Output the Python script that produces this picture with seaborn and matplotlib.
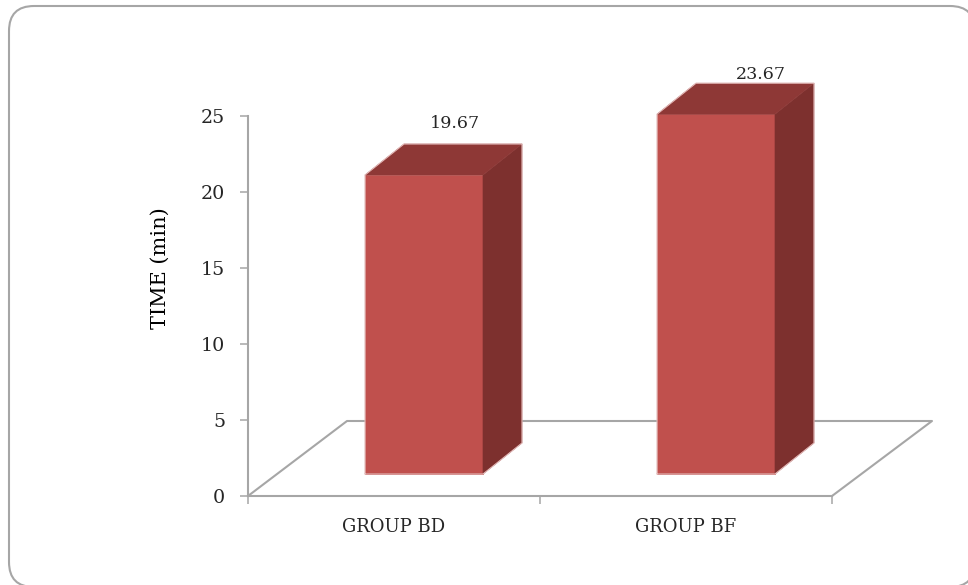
import matplotlib
matplotlib.use("Agg")
import matplotlib.pyplot as plt
from matplotlib.patches import FancyBboxPatch, Polygon
from matplotlib.transforms import Affine2D, IdentityTransform
import pandas as pd
import seaborn as sns

groups = ["GROUP BD", "GROUP BF"]
times = [19.67, 23.67]
y_ticks = [0, 5, 10, 15, 20, 25]

FRONT = "#C0504D"
SIDE = "#7D302E"
TOP = "#8E3836"
EDGE = "#E3B9B8"
GREY = "#A6A6A6"
INK = "#262626"
FONT = "DejaVu Serif"

W, H = 968, 585
sns.set_theme(style="white")
plt.rcParams["font.family"] = [FONT]

fig = plt.figure(figsize=(W / 100, H / 100), dpi=100, facecolor="white")
ax = fig.add_axes([248 / W, 1 - 496 / H, (832 - 248) / W, (496 - 116) / H])
ax.set_facecolor("none")

# rounded card behind the chart, running past the right and bottom edges
fig.patches.append(FancyBboxPatch(
    (34, -2 + 25), 975 - 34 - 25, 579 - 23 - 25,
    boxstyle="round,pad=25,rounding_size=25",
    transform=IdentityTransform(), facecolor="white",
    edgecolor=GREY, linewidth=1.5, zorder=-5))

data = pd.DataFrame({"group": groups, "time": times})
sns.barplot(data=data, x="group", y="time", ax=ax, color=FRONT, saturation=1,
            width=0.404, edgecolor=FRONT, linewidth=0.5, zorder=3)
ax.set_xlim(-0.5, 1.5)
ax.set_ylim(0, 25)

# pseudo-3D: the bars sit forward on the floor and get a side and top face
fig.canvas.draw()
shift = Affine2D().translate(30, 22)
depth = (39, 31)
bars = list(ax.patches)
for patch in bars:
    corners = ax.transData.transform(patch.get_corners())
    x0, x1 = corners[:, 0].min() + 30, corners[:, 0].max() + 30
    y0, y1 = corners[:, 1].min() + 22, corners[:, 1].max() + 22
    patch.set_transform(ax.transData + shift)
    patch.set_clip_on(False)
    dx, dy = depth
    side = [(x1, y0), (x1 + dx, y0 + dy), (x1 + dx, y1 + dy), (x1, y1)]
    top = [(x0, y1), (x1, y1), (x1 + dx, y1 + dy), (x0 + dx, y1 + dy)]
    for pts, colour in ((side, SIDE), (top, TOP)):
        ax.add_patch(Polygon(pts, closed=True, transform=IdentityTransform(),
                             facecolor=colour, edgecolor=colour, linewidth=0.4,
                             clip_on=False, zorder=3))
    # pale rim along the outer edges of the block
    rim_x = [x0, x0, x0 + dx, x1 + dx, x1 + dx, x1, x0]
    rim_y = [y0, y1, y1 + dy, y1 + dy, y0 + dy, y0, y0]
    ax.plot(rim_x, rim_y, transform=IdentityTransform(), color=EDGE, lw=0.8,
            clip_on=False, zorder=4)

# floor outline behind the bars
(fx0, fy), (fx1, _) = ax.transAxes.transform([(0, 0), (1, 0)])
ax.plot([fx0, fx0 + 99, fx1 + 100, fx1],
        [fy, fy + 75, fy + 75, fy],
        transform=IdentityTransform(), color=GREY, lw=1.5,
        clip_on=False, zorder=1)

# value labels above each bar
label_offsets = [(61, 74), (75, 62)]
for patch, value, (ox, oy) in zip(bars, times, label_offsets):
    ax.annotate(f"{value:.2f}", xy=(patch.get_x() + patch.get_width() / 2, value),
                xycoords="data", xytext=(ox * 0.72, oy * 0.72),
                textcoords="offset points", ha="center", va="center",
                fontsize=12.6, color=INK, annotation_clip=False)

for name in ("top", "right"):
    ax.spines[name].set_visible(False)
for name in ("left", "bottom"):
    ax.spines[name].set_color(GREY)
    ax.spines[name].set_linewidth(1.5)

ax.set_yticks(y_ticks)
ax.set_xticks([-0.5, 0.5, 1.5], labels=["", "", ""])
ax.set_xticks([0, 1], labels=groups, minor=True)
ax.tick_params(axis="both", which="major", length=6, width=1.1, color=GREY,
               bottom=True, left=True)
ax.tick_params(axis="y", labelsize=13.7, labelcolor=INK, pad=10.5)
ax.tick_params(axis="x", which="minor", length=0, labelsize=13,
               labelcolor=INK, pad=16)
ax.set_xlabel("")
ax.set_ylabel("TIME (min)", fontsize=15, color="black")
ax.yaxis.set_label_coords((160 - 248) / (832 - 248), 0.6)
ax.yaxis.label.set_verticalalignment("center")

fig.savefig("out.png", dpi=100)
